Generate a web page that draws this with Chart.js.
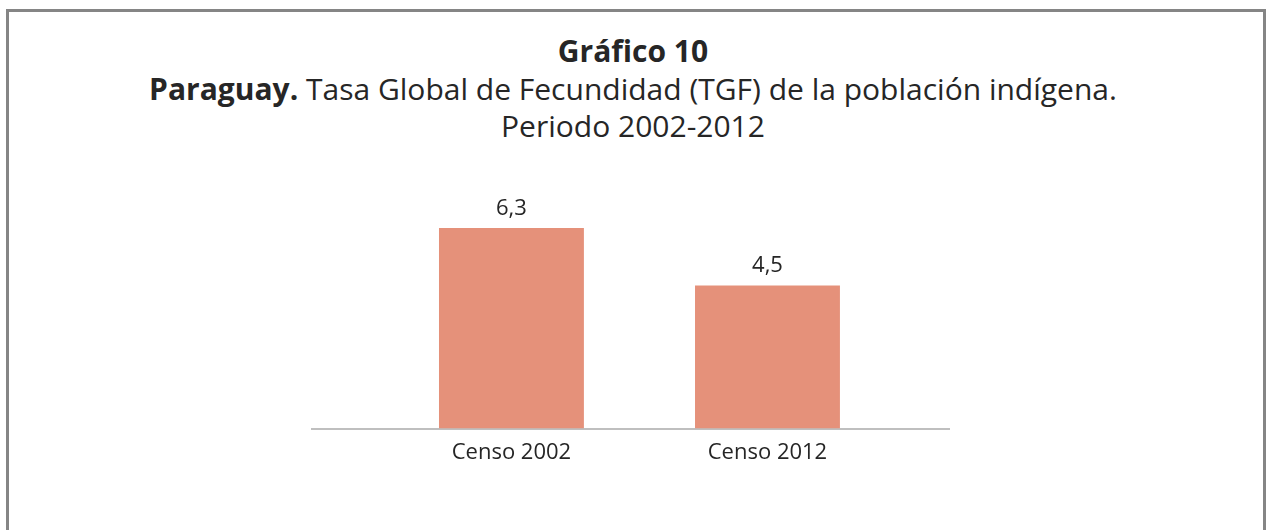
<!DOCTYPE html>
<html>
<head>
<meta charset="utf-8">
<script src="https://cdn.jsdelivr.net/npm/chart.js@4/dist/chart.umd.min.js"></script>
<style>
  html, body { margin: 0; padding: 0; background: #ffffff; }
  #wrap { position: relative; width: 1266px; height: 530px; overflow: hidden; background: #fff; }
  #frame { position: absolute; left: 6px; top: 9px; width: 1260px; height: 560px; border: 3px solid #858585; box-sizing: border-box; }
  .t { position: absolute; left: 0; width: 1266px; text-align: center; color: #262626;
       font-family: "Open Sans", "DejaVu Sans", sans-serif; white-space: nowrap; }
  #t1 { top: 32px; font-size: 30px; font-weight: bold; line-height: 37px; }
  #t2 { top: 70px; font-size: 30px; line-height: 37px; }
  #t3 { top: 107px; font-size: 30px; line-height: 37px; }
  canvas { position: absolute; left: 0; top: 0; }
</style>
</head>
<body>
<div id="wrap">
  <div id="frame"></div>
  <div class="t" id="t1">Gráfico 10</div>
  <div class="t" id="t2"><b>Paraguay.</b> Tasa Global de Fecundidad (TGF) de la población indígena.</div>
  <div class="t" id="t3">Periodo 2002-2012</div>
  <canvas id="c" width="1266" height="530"></canvas>
</div>
<script>
const categories = ["Censo 2002", "Censo 2012"];
const tgfValues = [6.3, 4.5];
const valueLabels = ["6,3", "4,5"];

const valueLabelPlugin = {
  id: 'valueLabels',
  afterDatasetsDraw(chart) {
    const ctx = chart.ctx;
    const meta = chart.getDatasetMeta(0);
    ctx.save();
    ctx.font = '22px "Open Sans", sans-serif';
    ctx.fillStyle = '#262626';
    ctx.textAlign = 'center';
    ctx.textBaseline = 'alphabetic';
    meta.data.forEach((bar, i) => {
      ctx.fillText(valueLabels[i], bar.x, bar.y - 13);
    });
    ctx.restore();
  }
};

new Chart(document.getElementById('c'), {
  type: 'bar',
  data: {
    datasets: [{
      data: tgfValues.map((v, i) => ({ x: i, y: v })),
      backgroundColor: '#E5917A',
      borderWidth: 0,
      categoryPercentage: 1,
      barPercentage: 0.566
    }]
  },
  options: {
    responsive: false,
    animation: false,
    devicePixelRatio: 1,
    layout: { padding: { top: 174, bottom: 53, left: 312, right: 317 } },
    plugins: { legend: { display: false }, tooltip: { enabled: false }, title: { display: false } },
    scales: {
      x: {
        type: 'linear',
        min: -0.779,
        max: 1.709,
        offset: false,
        grid: { display: false, drawTicks: false },
        border: { display: true, color: '#BFBFBF', width: 2 },
        afterBuildTicks: (axis) => { axis.ticks = categories.map((_, i) => ({ value: i })); },
        ticks: {
          padding: 11,
          autoSkip: false,
          maxRotation: 0,
          color: '#262626',
          font: { family: '"Open Sans", sans-serif', size: 22 },
          callback: (value) => categories[value]
        }
      },
      y: {
        display: false,
        min: 0,
        max: 8
      }
    }
  },
  plugins: [valueLabelPlugin]
});
</script>
</body>
</html>
